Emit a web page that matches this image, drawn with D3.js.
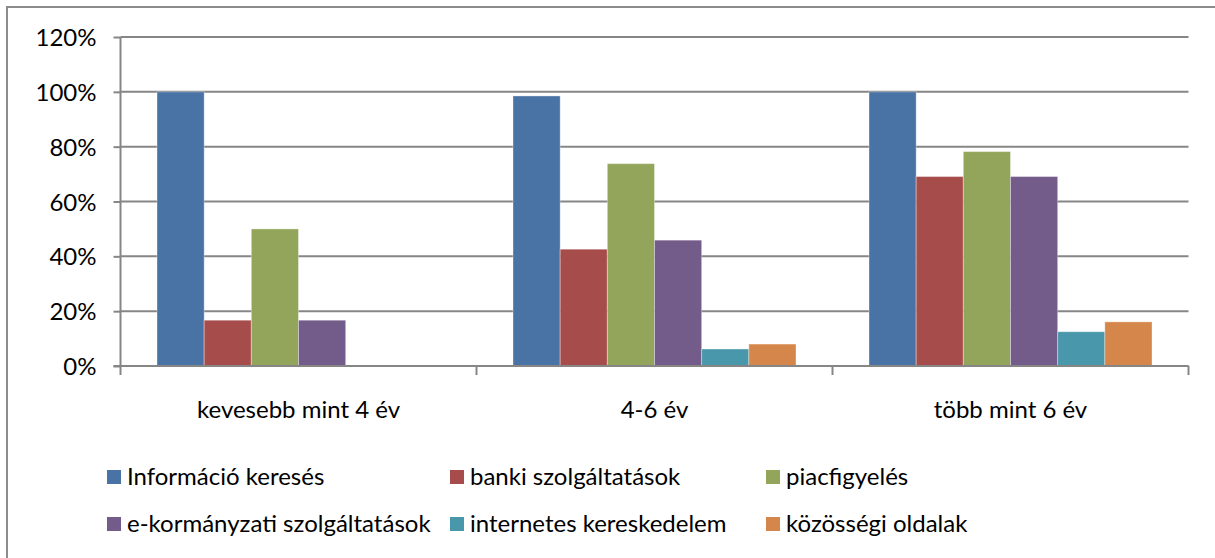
<!DOCTYPE html>
<html>
<head>
<meta charset="utf-8">
<script src="https://cdn.jsdelivr.net/npm/d3@7"></script>
<style>
  body { margin: 0; background: #fff; }
  text { font-family: Lato, "Open Sans", sans-serif; fill: #000; }
</style>
</head>
<body>
<svg width="1215" height="558"></svg>
<script>
const categories = ['kevesebb mint 4 év', '4-6 év', 'több mint 6 év'];
const seriesNames = ['Információ keresés', 'banki szolgáltatások', 'piacfigyelés',
                     'e-kormányzati szolgáltatások', 'internetes kereskedelem', 'közösségi oldalak'];
const infoKereses = [1.0, 0.985, 1.0];
const banki = [0.167, 0.426, 0.691];
const piacfigyeles = [0.50, 0.738, 0.782];
const eKormanyzati = [0.167, 0.459, 0.691];
const internetes = [0, 0.062, 0.125];
const kozossegi = [0, 0.08, 0.161];
const yTicks = [0, 0.2, 0.4, 0.6, 0.8, 1.0, 1.2];
const colors = ['#4A73A5', '#A64D4B', '#93A55A', '#735B8A', '#4897AB', '#D5864A'];

const seriesValues = [infoKereses, banki, piacfigyeles, eKormanyzati, internetes, kozossegi];
const rows = categories.map((c, i) => ({
    category: c,
    values: seriesNames.map((s, j) => ({ series: s, value: seriesValues[j][i] }))
}));

const width = 1215;
const height = 558;
const plotLeft = 120.5, plotRight = 1188.5, plotTop = 37, plotBottom = 366;
const fontSize = 24;
const gridColor = '#868686';

const svg = d3.select('svg')
    .attr('width', width)
    .attr('height', height);

// chart border (cut off at right and bottom)
svg.append('rect')
    .attr('x', 7).attr('y', 7)
    .attr('width', width + 20).attr('height', height + 20)
    .attr('fill', 'none')
    .attr('stroke', '#8c8c8c')
    .attr('stroke-width', 2);

const yScale = d3.scaleLinear()
    .domain([0, 1.2])
    .range([plotBottom, plotTop]);

const x0 = d3.scaleBand()
    .domain(categories)
    .range([plotLeft, plotRight])
    .padding(0);

const x1 = d3.scaleBand()
    .domain(seriesNames)
    .range([36.5, x0.bandwidth() - 36.5])
    .padding(0);

// y ticks
const yAxis = d3.axisLeft(yScale)
    .tickValues(yTicks)
    .tickFormat(d3.format('.0%'))
    .tickSize(7)
    .tickPadding(17);

const yG = svg.append('g')
    .attr('transform', `translate(${plotLeft}, 0)`)
    .call(yAxis);
yG.select('.domain').remove();
yG.selectAll('.tick line').attr('stroke', gridColor).attr('stroke-width', 2);
yG.selectAll('.tick text')
    .style('font-size', fontSize + 'px')
    .style('font-family', 'Lato, "Open Sans", sans-serif')
    .attr('fill', '#000')
    .attr('dy', '0.36em');

// gridlines
svg.append('g')
    .selectAll('line')
    .data(yTicks)
    .join('line')
        .attr('x1', plotLeft)
        .attr('x2', plotRight)
        .attr('y1', d => yScale(d))
        .attr('y2', d => yScale(d))
        .attr('stroke', gridColor)
        .attr('stroke-width', 2);

// bars
svg.append('g')
    .selectAll('g')
    .data(rows)
    .join('g')
        .attr('transform', d => `translate(${x0(d.category)}, 0)`)
    .selectAll('rect')
    .data(d => d.values)
    .join('rect')
        .attr('x', d => x1(d.series))
        .attr('y', d => yScale(d.value))
        .attr('width', x1.bandwidth())
        .attr('height', d => yScale(0) - yScale(d.value))
        .attr('fill', (d, i) => colors[i])
        .attr('stroke', 'rgba(255,255,255,0.35)')
        .attr('stroke-width', d => d.value > 0 ? 1 : 0);

// y axis line
svg.append('line')
    .attr('x1', plotLeft).attr('x2', plotLeft)
    .attr('y1', plotTop).attr('y2', plotBottom)
    .attr('stroke', gridColor)
    .attr('stroke-width', 2);

// x axis
svg.append('line')
    .attr('x1', plotLeft - 7).attr('x2', plotRight)
    .attr('y1', plotBottom).attr('y2', plotBottom)
    .attr('stroke', gridColor)
    .attr('stroke-width', 2);

const boundaries = categories.map(c => x0(c)).concat([plotRight]);
svg.append('g')
    .selectAll('line')
    .data(boundaries)
    .join('line')
        .attr('x1', d => d).attr('x2', d => d)
        .attr('y1', plotBottom).attr('y2', plotBottom + 9)
        .attr('stroke', gridColor)
        .attr('stroke-width', 2);

svg.append('g')
    .selectAll('text')
    .data(categories)
    .join('text')
        .attr('x', d => x0(d) + x0.bandwidth() / 2)
        .attr('y', 418)
        .style('text-anchor', 'middle')
        .style('font-size', fontSize + 'px')
        .text(d => d);

// legend
const legendCols = [107, 450, 766];
const legendRows = [485, 532];
const legend = svg.append('g')
    .selectAll('g')
    .data(seriesNames)
    .join('g')
        .attr('transform', (d, i) => `translate(${legendCols[i % 3]}, ${legendRows[Math.floor(i / 3)]})`);

legend.append('rect')
    .attr('x', 0)
    .attr('y', -15)
    .attr('width', 14)
    .attr('height', 14)
    .attr('fill', (d, i) => colors[i]);

legend.append('text')
    .attr('x', 20)
    .attr('y', 0)
    .style('font-size', fontSize + 'px')
    .text(d => d);
</script>
</body>
</html>
